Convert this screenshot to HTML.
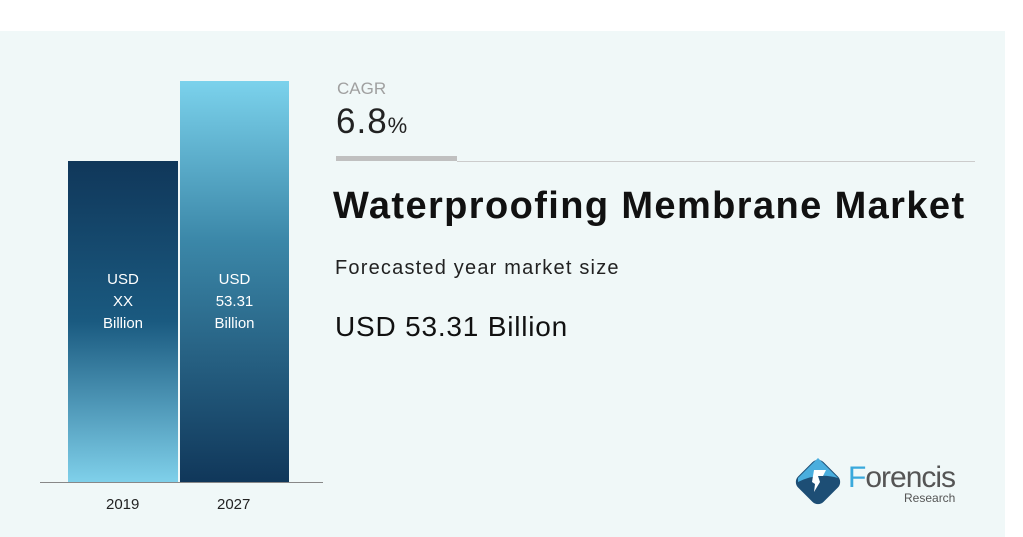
<!DOCTYPE html>
<html><head><style>
body{margin:0;width:1023px;height:537px;background:#fff;position:relative;overflow:hidden;font-family:"Liberation Sans",sans-serif}
.panel{position:absolute;left:0;top:31px;width:1005px;height:506px;background:#f0f8f8}
.a{position:absolute}
.lbl{color:#fff;font-size:15px;text-align:center;line-height:22px}
</style></head><body>
<div class="panel"></div>
<div class="a" style="left:68px;top:161px;width:110px;height:321px;background:linear-gradient(#10375a 0%,#1a5a80 50%,#7fd0ea 100%)"></div>
<div class="a" style="left:180px;top:81px;width:109px;height:401px;background:linear-gradient(#7bd2ec 0%,#3b87a8 40%,#10375a 100%)"></div>
<div class="a lbl" style="left:68px;top:269px;width:110px">USD<br>XX<br>Billion</div>
<div class="a lbl" style="left:180px;top:269px;width:109px">USD<br>53.31<br>Billion</div>
<div class="a" style="left:40px;top:482px;width:283px;height:1px;background:#888"></div>
<div class="a" style="left:106px;top:496px;font-size:15px;color:#222">2019</div>
<div class="a" style="left:217px;top:496px;font-size:15px;color:#222">2027</div>
<div class="a" style="left:337px;top:79px;font-size:17px;color:#a0a0a0">CAGR</div>
<div class="a" style="left:336px;top:102px;font-size:35px;color:#222;letter-spacing:1px">6.8<span style="font-size:22px">%</span></div>
<div class="a" style="left:336px;top:156px;width:121px;height:5px;background:#c0c0c0"></div>
<div class="a" style="left:457px;top:161px;width:518px;height:1px;background:#ccc"></div>
<div class="a" style="left:333px;top:185px;font-size:38px;font-weight:bold;color:#111;white-space:nowrap;letter-spacing:1.4px">Waterproofing Membrane Market</div>
<div class="a" style="left:335px;top:257px;font-size:20px;color:#222;letter-spacing:1.2px;white-space:nowrap">Forecasted year market size</div>
<div class="a" style="left:335px;top:311px;font-size:28px;color:#111;letter-spacing:0.8px;white-space:nowrap">USD 53.31 Billion</div>
<svg class="a" style="left:790px;top:454px" width="56" height="56" viewBox="0 0 56 56">
<rect x="10" y="10" width="36" height="36" rx="8" transform="rotate(45 28 28)" fill="#1d4e75"/>
<path d="M8 24 L28 4 L48 24 Q28 18 8 28Z" fill="#4aaede"/>
<path d="M24 16 L36 16 L33 22 L28 22 L30 28 L24 38 L25 30 L22 28Z" fill="#fff"/>
</svg>
<div class="a" style="left:848px;top:461px;font-size:30px;color:#555;letter-spacing:-1px;white-space:nowrap"><span style="color:#3aa9dc">F</span>orencis</div>
<div class="a" style="left:904px;top:491px;font-size:12px;color:#555">Research</div>
</body></html>
